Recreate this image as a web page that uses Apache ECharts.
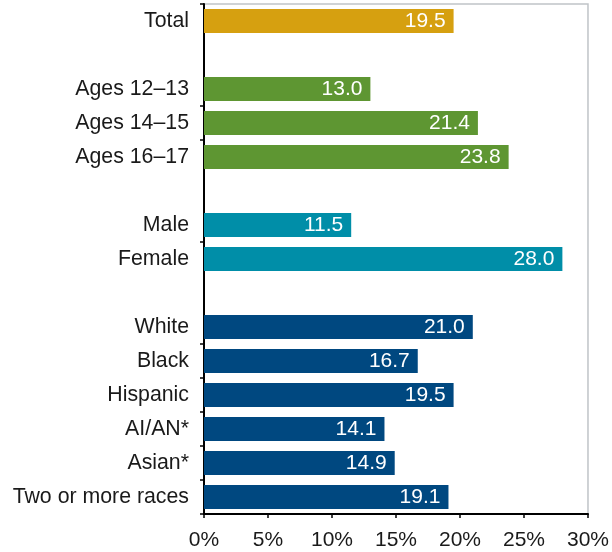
<!DOCTYPE html>
<html>
<head>
<meta charset="utf-8">
<script src="https://cdn.jsdelivr.net/npm/echarts@6/dist/echarts.min.js"></script>
<style>
html,body{margin:0;padding:0;background:#fff;}
#c{width:612px;height:552px;}
</style>
</head>
<body>
<div id="c"></div>
<script>
var categories = ['Total', ' ', 'Ages 12\u201313', 'Ages 14\u201315', 'Ages 16\u201317', '  ', 'Male', 'Female', '   ', 'White', 'Black', 'Hispanic', 'AI/AN*', 'Asian*', 'Two or more races'];
var values = [19.5, null, 13.0, 21.4, 23.8, null, 11.5, 28.0, null, 21.0, 16.7, 19.5, 14.1, 14.9, 19.1];
var groupColors = ['#D6A010', null, '#5E9632', '#5E9632', '#5E9632', null, '#008EA8', '#008EA8', null, '#004880', '#004880', '#004880', '#004880', '#004880', '#004880'];
var xTicks = [0, 5, 10, 15, 20, 25, 30];

var FONT = 'Liberation Sans, Arial, Helvetica, sans-serif';
var n = categories.length;
function filled(i) { return i >= 0 && i < n && categories[i].trim() !== ''; }
var chart = echarts.init(document.getElementById('c'), null, {renderer: 'canvas'});
chart.setOption({
  animation: false,
  grid: {left: 204, right: 23, top: 4, bottom: 38, show: true, borderColor: '#C0C4C8', borderWidth: 1.5, containLabel: false},
  xAxis: {
    type: 'value', min: xTicks[0], max: xTicks[xTicks.length - 1], interval: 5,
    axisLine: {show: true, lineStyle: {color: '#000', width: 2}},
    axisTick: {show: true, length: 4, lineStyle: {color: '#000', width: 1.5}},
    splitLine: {show: false},
    axisLabel: {formatter: '{value}%', color: '#1a1a1a', fontSize: 21, fontFamily: FONT, margin: 16}
  },
  yAxis: {
    type: 'category', inverse: true, data: categories,
    axisLine: {show: true, lineStyle: {color: '#000', width: 2}},
    axisTick: {show: true, length: 4, lineStyle: {color: '#000', width: 1.5},
      interval: function (index) { return index === 0 || (filled(index) && filled(index - 1)); }},
    axisLabel: {color: '#1a1a1a', fontSize: 21.3, fontFamily: FONT, margin: 15, interval: 0}
  },
  series: [{
    type: 'bar', barWidth: 24,
    data: values.map(function (v, i) { return {value: v, itemStyle: {color: groupColors[i]}}; }),
    label: {show: true, position: 'insideRight', distance: 8, color: '#fff', fontSize: 21, fontFamily: FONT,
      formatter: function (p) { return p.value == null ? '' : p.value.toFixed(1); }}
  }]
});
</script>
</body>
</html>
